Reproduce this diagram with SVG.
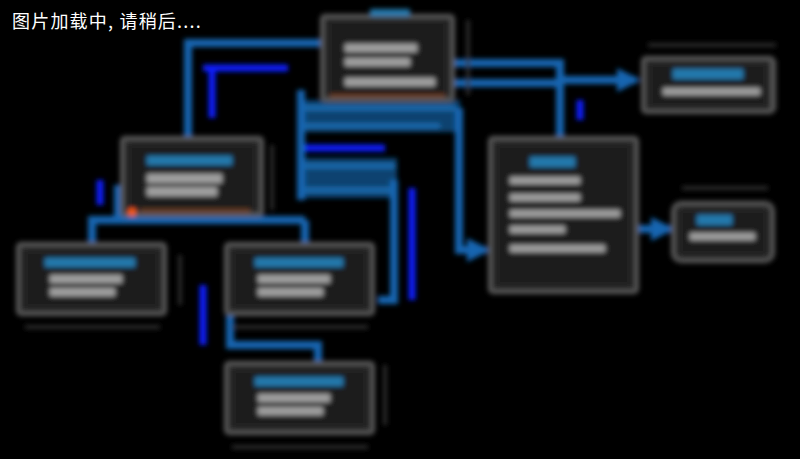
<svg xmlns="http://www.w3.org/2000/svg" width="800" height="459" viewBox="0 0 800 459">
<defs>
<style>
.node{fill:#262626;stroke:#5c5c5c;stroke-width:4}
.inner{fill:#1e1e1e}
.title{fill:#2279ad}
.line{fill:#a0a0a0}
.conn{fill:none;stroke:#1565b0;stroke-width:8}
.band{fill:#0d4270}
.stripe{fill:none;stroke:#1a6cb0;stroke-width:5}
.hot{fill:none;stroke:#0a1eff;stroke-width:7}
.dim{fill:none;stroke:#3a3a3a;stroke-width:3}
.warm{fill:#6a3a1a}
.msg{font-family:"Noto Sans CJK SC","Noto Sans",sans-serif;font-size:18px;fill:#ffffff}
</style>
<filter id="blur" x="-5%" y="-5%" width="110%" height="110%"><feGaussianBlur stdDeviation="2.5"/></filter>
<marker id="arr" viewBox="0 0 10 10" refX="8" refY="5" markerWidth="3" markerHeight="3" orient="auto"><path d="M0,0 L10,5 L0,10 z" fill="#1565b0"/></marker>
</defs>
<rect width="800" height="459" fill="#000"/>
<g filter="url(#blur)">
<g id="connectors">
<rect class="band" x="297" y="100" width="163" height="32"/>
<rect class="band" x="297" y="158" width="100" height="40"/>
<path class="stripe" d="M300,108 H455 M300,126 H440 M300,166 H395 M300,190 H390"/>
<path class="conn" d="M322,43 H188 V137"/>
<path class="hot" d="M288,68 H203 M212,68 V118"/>
<path class="conn" d="M453,63 H560 V137"/>
<path class="conn" d="M453,83 H560"/>
<path class="conn" d="M560,80 H636" marker-end="url(#arr)"/>
<path class="conn" d="M459,108 V250 H486" marker-end="url(#arr)"/>
<path class="conn" d="M637,229 H670" marker-end="url(#arr)"/>
<path class="conn" d="M301,90 V200"/>
<path class="hot" d="M305,148 H385"/>
<path class="conn" d="M394,180 V300 H378"/>
<path class="conn" d="M88,220 H305 M92,220 V243 M305,220 V243"/>
<path class="conn" d="M118,185 V220"/>
<path class="conn" d="M230,290 V345 H318 V362"/>
<path class="hot" d="M203,285 V345"/>
<path class="hot" d="M412,188 V300"/>
<path class="hot" d="M100,180 V205"/>
<path class="hot" d="M580,100 V120"/>
<path class="dim" d="M648,45 H776 M775,60 V110 M492,287 H637 M682,188 H768 M25,327 H160 M232,327 H368 M232,447 H368 M272,145 V210 M180,255 V305 M385,365 V425 M468,20 V95"/>
</g>
<g id="n-top"><rect class="node" x="322" y="16" width="131" height="84" rx="3"/><rect class="title" x="370" y="9" width="40" height="7"/><rect class="inner" x="330" y="22" width="115" height="72"/><rect class="warm" x="330" y="94" width="115" height="4"/><rect class="line" x="345" y="44" width="72" height="8"/><rect class="line" x="345" y="58" width="65" height="8"/><rect class="line" x="345" y="78" width="90" height="8"/></g>
<g id="n-mult"><rect class="node" x="122" y="138" width="140" height="77" rx="3"/><rect class="inner" x="130" y="146" width="124" height="62"/><rect class="warm" x="140" y="209" width="110" height="4"/><circle cx="132" cy="212" r="4" fill="#ff5a10"/><rect class="title" x="147" y="156" width="85" height="9"/><rect class="line" x="147" y="174" width="75" height="9"/><rect class="line" x="147" y="187" width="70" height="9"/></g>
<g id="n-big"><rect class="node" x="490" y="138" width="147" height="154" rx="3"/><rect class="inner" x="498" y="146" width="131" height="138"/><rect class="title" x="530" y="157" width="45" height="10"/><rect class="line" x="510" y="177" width="70" height="7"/><rect class="line" x="510" y="194" width="70" height="7"/><rect class="line" x="510" y="210" width="110" height="7"/><rect class="line" x="510" y="226" width="55" height="7"/><rect class="line" x="510" y="245" width="95" height="7"/></g>
<g id="n-topright"><rect class="node" x="643" y="58" width="130" height="54" rx="3"/><rect class="inner" x="651" y="65" width="114" height="40"/><rect class="title" x="673" y="69" width="70" height="10"/><rect class="line" x="663" y="88" width="97" height="7"/></g>
<g id="n-small"><rect class="node" x="673" y="203" width="100" height="58" rx="8"/><rect class="inner" x="681" y="211" width="84" height="42"/><rect class="title" x="697" y="215" width="35" height="10"/><rect class="line" x="690" y="233" width="65" height="7"/></g>
<g id="n-b1"><rect class="node" x="18" y="244" width="147" height="70" rx="3"/><rect class="inner" x="26" y="252" width="131" height="54"/><rect class="title" x="45" y="258" width="90" height="9"/><rect class="line" x="50" y="275" width="72" height="8"/><rect class="line" x="50" y="288" width="65" height="8"/></g>
<g id="n-b2"><rect class="node" x="226" y="244" width="147" height="70" rx="3"/><rect class="inner" x="234" y="252" width="131" height="54"/><rect class="title" x="255" y="258" width="88" height="9"/><rect class="line" x="258" y="275" width="72" height="8"/><rect class="line" x="258" y="288" width="65" height="8"/></g>
<g id="n-b3"><rect class="node" x="226" y="363" width="147" height="70" rx="3"/><rect class="inner" x="234" y="371" width="131" height="54"/><rect class="title" x="255" y="377" width="88" height="9"/><rect class="line" x="258" y="394" width="72" height="8"/><rect class="line" x="258" y="407" width="65" height="8"/></g>
</g>
<text class="msg" x="12" y="28" letter-spacing="1.2">图片加载中, 请稍后....</text>
</svg>
